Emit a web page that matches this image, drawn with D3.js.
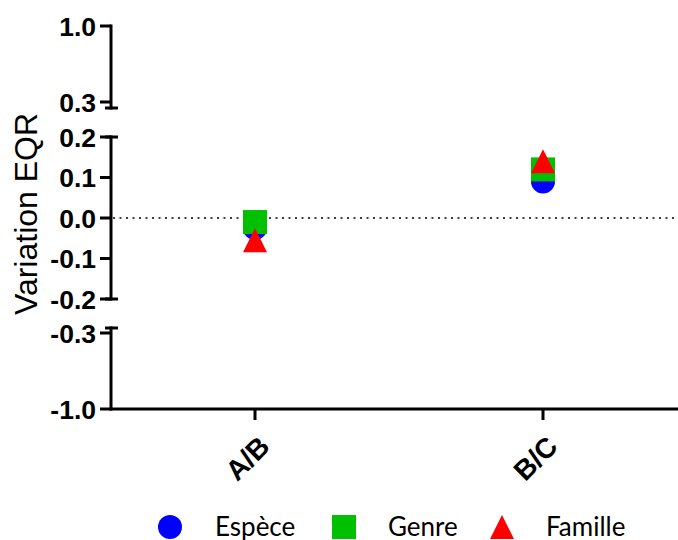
<!DOCTYPE html>
<html lang="fr">
<head>
<meta charset="UTF-8">
<title>Variation EQR</title>
<script src="https://d3js.org/d3.v7.min.js"></script>
<style>
  body { margin: 0; background: #fff; }
  svg { display: block; font-family: "Liberation Sans", Arial, sans-serif; }
</style>
</head>
<body>
<div id="chart"></div>
<script>
const categories = ["A/B", "B/C"];
const seriesNames = ["Espèce", "Genre", "Famille"];
const especeValues = [-0.025, 0.09];
const genreValues = [-0.01, 0.12];
const familleValues = [-0.055, 0.14];
const topTicks = [1.0, 0.3];
const midTicks = [0.2, 0.1, 0.0, -0.1, -0.2];
const bottomTicks = [-0.3, -1.0];

const width = 678, height = 540;
const axisX = 111, axisBottom = 409;

const svg = d3.select("#chart").append("svg")
  .attr("width", width)
  .attr("height", height);

const x = d3.scaleBand().domain(categories).range([axisX, 687]);

// broken y axis: three segments
const segments = [
  { scale: d3.scaleLinear().domain([0.3, 1.0]).range([102, 26]), ticks: topTicks, y0: 108, y1: 26, caps: [108] },
  { scale: d3.scaleLinear().domain([-0.2, 0.2]).range([299, 137]), ticks: midTicks, y0: 299, y1: 137, caps: [137, 299] },
  { scale: d3.scaleLinear().domain([-1.0, -0.3]).range([409, 333]), ticks: bottomTicks, y0: 409, y1: 328, caps: [328] }
];
const mid = segments[1].scale;
const fmt = v => d3.format(".1f")(v).replace("\u2212", "-");

segments.forEach(s => {
  const g = svg.append("g");
  g.append("line")
    .attr("x1", axisX).attr("x2", axisX)
    .attr("y1", s.y0 + 1.5).attr("y2", s.y1 - 1.5)
    .attr("stroke", "#000").attr("stroke-width", 3);
  g.selectAll(".tick").data(s.ticks).join("line")
    .attr("x1", 100).attr("x2", axisX)
    .attr("y1", d => s.scale(d)).attr("y2", d => s.scale(d))
    .attr("stroke", "#000").attr("stroke-width", 3);
  g.selectAll(".cap").data(s.caps).join("line")
    .attr("x1", 105).attr("x2", 118)
    .attr("y1", d => d).attr("y2", d => d)
    .attr("stroke", "#000").attr("stroke-width", 3);
  g.selectAll("text").data(s.ticks).join("text")
    .attr("x", 96).attr("y", d => s.scale(d))
    .attr("dy", "0.36em")
    .attr("text-anchor", "end")
    .attr("font-size", 26.5).attr("font-weight", "bold")
    .text(fmt);
});

// x axis
svg.append("line")
  .attr("x1", axisX - 1.5).attr("x2", width)
  .attr("y1", axisBottom).attr("y2", axisBottom)
  .attr("stroke", "#000").attr("stroke-width", 3);
svg.selectAll(".xtick").data(categories).join("line")
  .attr("x1", d => x(d) + x.bandwidth() / 2).attr("x2", d => x(d) + x.bandwidth() / 2)
  .attr("y1", axisBottom).attr("y2", 420)
  .attr("stroke", "#000").attr("stroke-width", 3);
svg.selectAll(".xlabel").data(categories).join("text")
  .attr("transform", d => `translate(${x(d) + x.bandwidth() / 2 + 2},${434}) rotate(-45)`)
  .attr("text-anchor", "end")
  .attr("dy", "0.72em")
  .attr("font-size", 28).attr("font-weight", "bold")
  .text(d => d);

// zero line
svg.append("line")
  .attr("x1", axisX + 2).attr("x2", width)
  .attr("y1", mid(0)).attr("y2", mid(0))
  .attr("stroke", "#000").attr("stroke-width", 1.5)
  .attr("stroke-dasharray", "2,4.5");

// y title
svg.append("text")
  .attr("transform", "translate(37,214) rotate(-90)")
  .attr("text-anchor", "middle")
  .attr("font-size", 32)
  .text("Variation EQR");

// markers
const cx = d => x(d) + x.bandwidth() / 2;
const tri = "M0,-12L12,12L-12,12Z";

svg.selectAll(".esp").data(categories).join("circle")
  .attr("cx", cx).attr("cy", (d, i) => mid(especeValues[i])).attr("r", 12)
  .attr("fill", "#0000ff");
svg.selectAll(".gen").data(categories).join("rect")
  .attr("x", d => cx(d) - 12).attr("y", (d, i) => mid(genreValues[i]) - 12)
  .attr("width", 24).attr("height", 24)
  .attr("fill", "#00c000");
svg.selectAll(".fam").data(categories).join("path")
  .attr("transform", (d, i) => `translate(${cx(d)},${mid(familleValues[i])})`)
  .attr("d", tri)
  .attr("fill", "#ff0000");

// legend
const legend = svg.append("g").attr("font-family", "Lato, 'Open Sans', sans-serif").attr("font-size", 26);
const lx = [170, 344, 502];
const tx = [215, 388, 546];
const ly = 527;
legend.append("circle").attr("cx", lx[0]).attr("cy", ly).attr("r", 12).attr("fill", "#0000ff");
legend.append("rect").attr("x", lx[1] - 12).attr("y", ly - 12).attr("width", 24).attr("height", 24).attr("fill", "#00c000");
legend.append("path").attr("transform", `translate(${lx[2]},${ly})`).attr("d", tri).attr("fill", "#ff0000");
legend.selectAll("text").data(seriesNames).join("text")
  .attr("x", (d, i) => tx[i]).attr("y", ly + 9)
  .text(d => d);
</script>
</body>
</html>
